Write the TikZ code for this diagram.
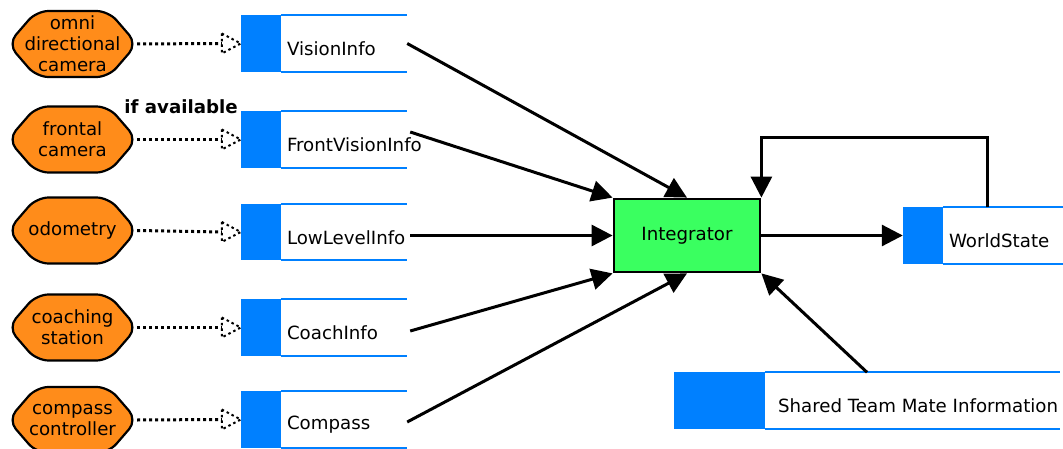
\documentclass[tikz,border=0pt]{standalone}
\usepackage{fontspec}
\setmainfont{DejaVu Sans}
\usetikzlibrary{arrows.meta,calc}
\definecolor{hexorange}{RGB}{255,140,26}
\definecolor{intgreen}{RGB}{58,255,96}
\definecolor{msgblue}{RGB}{0,128,255}
\tikzset{
  every node/.style={font=\fontsize{18.2}{21}\selectfont, inner sep=0pt},
  hexshape/.style={fill=hexorange, draw=black, line width=2.2pt, rounded corners=12pt},
  hexnode/.style={minimum width=129pt, minimum height=66pt, align=center},
  msgboxs/.style={minimum height=56pt},
  bluebar/.style={fill=msgblue},
  blueline/.style={draw=msgblue, line width=2.2pt},
  msglabel/.style={anchor=west},
  flow/.style={draw=black, line width=3pt, -{Triangle[length=21pt,width=21pt]}},
  feed/.style={draw=black, line width=3pt, dash pattern=on 3pt off 3pt},
  feedhead/.style={draw=black, line width=2pt, dash pattern=on 2.5pt off 3pt},
  integ/.style={fill=intgreen, draw=black, line width=2.8pt, minimum width=146pt, minimum height=73pt},
}
\newcommand\hexat[4]{%
  \draw[hexshape] (#2-64.5,#3) -- (#2-36,#3-33) -- (#2+36,#3-33) -- (#2+64.5,#3) -- (#2+36,#3+33) -- (#2-36,#3+33) -- cycle;
  \node[hexnode] (#1) at (#2,#3) {#4};
}
\newcommand\msgboxat[7]{%
  \node[msgboxs, minimum width=#4pt] (#1) at (#2,#3) {};
  \fill[bluebar] (#1.north west) rectangle ([xshift=#5pt]#1.south west);
  \draw[blueline] ([xshift=#5pt]#1.north west) -- (#1.north east);
  \draw[blueline] ([xshift=#5pt]#1.south west) -- (#1.south east);
  \node[msglabel] (#1t) at ([xshift=#6pt,yshift=-5.5pt]#1.west) {#7};
}
\newcommand\feedto[2]{%
  \draw[feed] (#1.east) -- ([xshift=-19pt]#2.west);
  \draw[feedhead] ([xshift=-19pt,yshift=10pt]#2.west) -- (#2.west) -- ([xshift=-19pt,yshift=-10pt]#2.west) -- cycle;
}
\begin{document}
\begin{tikzpicture}[x=1pt,y=-1pt]
\useasboundingbox (0,0) rectangle (1063,449);

\hexat{omni}{72.5}{44}{omni\\directional\\camera}
\hexat{frontcam}{72.5}{139.5}{frontal\\camera}
\hexat{odom}{72.5}{230.5}{odometry}
\hexat{coachst}{72.5}{327.5}{coaching\\station}
\hexat{compctl}{72.5}{420}{compass\\controller}

\msgboxat{vis}{324}{43.5}{166}{40}{46}{VisionInfo}
\msgboxat{front}{324}{139.5}{166}{40}{46}{FrontVisionInfo}
\msgboxat{low}{324}{232}{166}{40}{46}{LowLevelInfo}
\msgboxat{coach}{324}{327.5}{166}{40}{46}{CoachInfo}
\msgboxat{comp}{324}{419.5}{166}{40}{46}{Compass}
\msgboxat{world}{983}{235.5}{160}{40}{46}{WorldState}
\msgboxat{shared}{867}{400.5}{386}{91}{104}{Shared Team Mate Information}

\node[font=\fontsize{18.2}{21}\selectfont\bfseries] (ifav) at (181,107) {if available};

\feedto{omni}{vis}
\feedto{frontcam}{front}
\feedto{odom}{low}
\feedto{coachst}{coach}
\feedto{compctl}{comp}

\node[integ] (int) at (687,235.5) {Integrator};

\draw[flow] (vis.east) -- (int.north);
\draw[flow] ([xshift=3pt,yshift=7.5pt]front.east) -- (int.north west);
\draw[flow] ([xshift=3pt]low.east |- int.west) -- (int.west);
\draw[flow] ([xshift=3pt,yshift=-3.5pt]coach.east) -- (int.south west);
\draw[flow] ([yshift=-2.5pt]comp.east) -- (int.south);
\draw[flow] (int.east) -- (world.west);
\draw[flow] ([xshift=4pt]world.north) |- ($(int.north east)+(0,-60)$) -- (int.north east);
\draw[flow] (shared.north) -- (int.south east);
\end{tikzpicture}
\end{document}
